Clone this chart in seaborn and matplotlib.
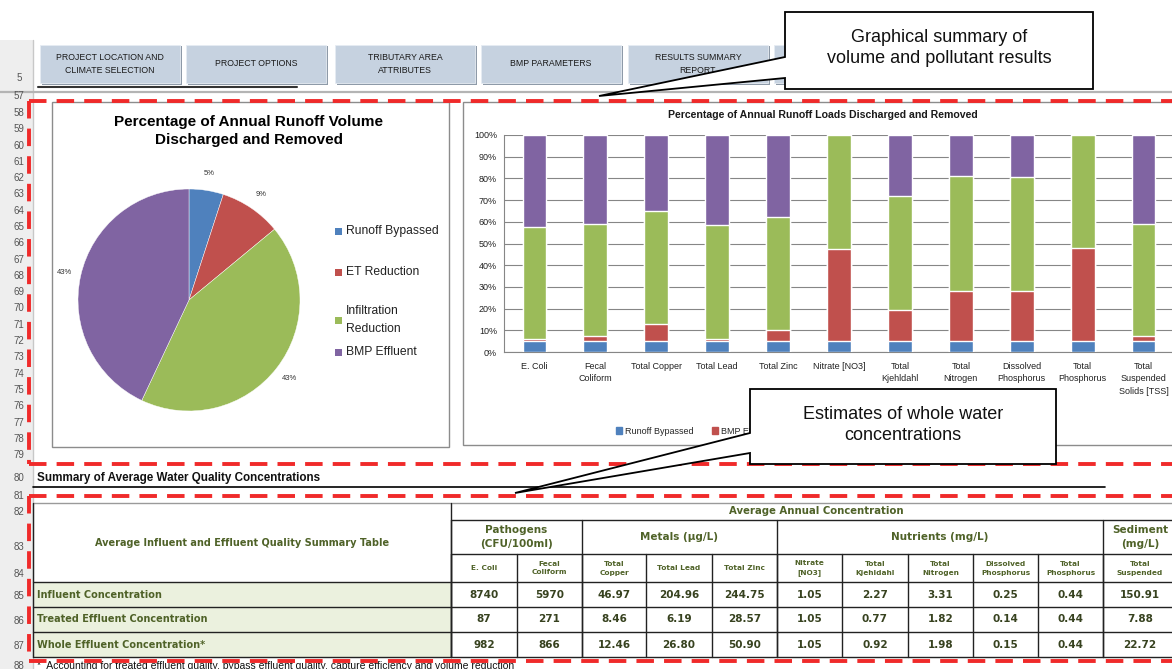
import numpy as np
import pandas as pd
import matplotlib
matplotlib.use("Agg")
import matplotlib.pyplot as plt
import seaborn as sns
from matplotlib.patches import Rectangle, Polygon, Patch

# ---------------- data ----------------
pie_labels = ["Runoff Bypassed", "ET Reduction", "Infiltration\nReduction", "BMP Effluent"]
pie_values = [5, 9, 43, 43]
series_colors = ["#4F81BD", "#C0504D", "#9BBB59", "#8064A2"]

bar_categories = ["E. Coli", "Fecal\nColiform", "Total Copper", "Total Lead", "Total Zinc",
                  "Nitrate [NO3]", "Total\nKjehldahl", "Total\nNitrogen", "Dissolved\nPhosphorus",
                  "Total\nPhosphorus", "Total\nSuspended\nSolids [TSS]"]
bar_series = ["Runoff Bypassed", "BMP Effluent", "Load Removed", "Volume Removed"]
runoff_bypassed = [5, 5, 5, 5, 5, 5, 5, 5, 5, 5, 5]
bmp_effluent = [0.8, 2.2, 7.7, 1.2, 5.1, 42.3, 14.2, 23.3, 23.3, 42.7, 2.2]
load_removed = [52.0, 52.0, 52.2, 52.1, 52.2, 52.7, 52.8, 52.7, 52.3, 52.3, 52.0]
volume_removed = [42.2, 40.8, 35.1, 41.7, 37.7, 0.0, 28.0, 19.0, 19.4, 0.0, 40.8]

buttons = ["PROJECT LOCATION AND\nCLIMATE SELECTION", "PROJECT OPTIONS", "TRIBUTARY AREA\nATTRIBUTES",
           "BMP PARAMETERS", "RESULTS SUMMARY\nREPORT", ""]

table_title = "Average Influent and Effluent Quality Summary Table"
group_headers = ["Pathogens\n(CFU/100ml)", "Metals (\u00b5g/L)", "Nutrients (mg/L)", "Sediment\n(mg/L)"]
group_spans = [2, 3, 5, 1]
col_headers = ["E. Coli", "Fecal\nColiform", "Total\nCopper", "Total Lead", "Total Zinc", "Nitrate\n[NO3]",
               "Total\nKjehldahl", "Total\nNitrogen", "Dissolved\nPhosphorus", "Total\nPhosphorus", "Total\nSuspended"]
row_labels = ["Influent Concentration", "Treated Effluent Concentration", "Whole Effluent Concentration*"]
influent = ["8740", "5970", "46.97", "204.96", "244.75", "1.05", "2.27", "3.31", "0.25", "0.44", "150.91"]
treated = ["87", "271", "8.46", "6.19", "28.57", "1.05", "0.77", "1.82", "0.14", "0.44", "7.88"]
whole = ["982", "866", "12.46", "26.80", "50.90", "1.05", "0.92", "1.98", "0.15", "0.44", "22.72"]

# ---------------- setup ----------------
sns.set_style("white")
plt.rcParams["font.family"] = ["Liberation Sans", "DejaVu Sans"]

W, H = 1172, 669
fig = plt.figure(figsize=(W / 100, H / 100), dpi=100)
fig.patch.set_facecolor("white")

def overlay(z):
    a = fig.add_axes([0, 0, 1, 1], zorder=z)
    a.set_xlim(0, W)
    a.set_ylim(H, 0)
    a.axis("off")
    return a

bg = overlay(0)
fg = overlay(20)

# Excel row header column
bg.add_patch(Rectangle((0, 40), 33, H - 40, fc="#eeeeee", ec="none"))
bg.plot([33, 33], [40, H], color="#c8c8c8", lw=1)
row_nums = {"5": 78, "57": 96}
for i, r in enumerate(range(58, 80)):
    row_nums[str(r)] = 113 + i * 16.29
row_nums.update({"80": 478, "81": 496, "82": 512, "83": 547, "84": 574, "85": 596, "86": 621, "87": 646, "88": 666})
for k, y in row_nums.items():
    bg.text(19, y, k, ha="center", va="center", fontsize=7, color="#555555")

# frozen-pane line and button underline
bg.plot([0, W], [92, 92], color="#b4b4b4", lw=1.6)
bg.plot([38, 297], [87, 87], color="#333333", lw=1.5)

# buttons
bx = [40, 186, 335, 481, 628, 774]
for x0, lab in zip(bx, buttons):
    w = 140
    bg.add_patch(Rectangle((x0 + 1.5, 46), w, 39, fc="#8e9aa8", ec="none"))
    bg.add_patch(Rectangle((x0, 45), w, 38, fc="#c6d2e0", ec="#e6ecf3", lw=0.6))
    bg.text(x0 + w / 2, 64, lab, ha="center", va="center", fontsize=6.3, color="#1a1a1a", linespacing=1.7)

# panel boxes
bg.add_patch(Rectangle((52, 102), 397, 345, fc="white", ec="#8c8c8c", lw=1))
bg.add_patch(Rectangle((463, 102), 730, 343, fc="white", ec="#8c8c8c", lw=1))

# ---------------- pie chart ----------------
bg.text(249, 131, "Percentage of Annual Runoff Volume\nDischarged and Removed", ha="center", va="center",
        fontsize=11, fontweight="bold", color="black", linespacing=1.3)
axp = fig.add_axes([78 / W, 1 - 411 / H, 222 / W, 222 / H], zorder=5)
wedges, texts = axp.pie(pie_values, colors=series_colors, startangle=90, counterclock=False,
                        labels=[f"{v}%" for v in pie_values], labeldistance=1.15,
                        textprops=dict(fontsize=5.5, color="#333333"),
                        wedgeprops=dict(edgecolor="white", linewidth=0.3))
for t in texts:
    t.set_ha("center")
    t.set_va("center")
axp.set_xlim(-1, 1)
axp.set_ylim(-1, 1)

leg_y = [231, 272, 320, 352]
for lab, col, y in zip(pie_labels, series_colors, leg_y):
    bg.add_patch(Rectangle((335, y - 3.5), 7, 7, fc=col, ec="none"))
    bg.text(346, y, lab, ha="left", va="center", fontsize=8.7, color="#222222", linespacing=1.6)

# ---------------- stacked bar chart ----------------
bg.text(823, 115, "Percentage of Annual Runoff Loads Discharged and Removed", ha="center", va="center",
        fontsize=7.6, fontweight="bold", color="#1a1a1a")
axb = fig.add_axes([504 / W, 1 - 352 / H, 670 / W, 217 / H], zorder=5)
segs = np.array([runoff_bypassed, bmp_effluent, load_removed, volume_removed])
cum = np.cumsum(segs, axis=0)
df = pd.DataFrame({"category": bar_categories})
for i, name in enumerate(bar_series):
    df[name] = cum[i]
for i in range(3, -1, -1):
    sns.barplot(data=df, x="category", y=bar_series[i], order=bar_categories, color=series_colors[i],
                width=0.39, saturation=1, ax=axb, zorder=3)
axb.set_xlabel("")
axb.set_ylabel("")
axb.set_ylim(0, 100)
axb.set_xlim(-0.5, 10.5)
axb.set_yticks(range(0, 101, 10))
axb.set_yticklabels([f"{v}%" for v in range(0, 101, 10)])
axb.grid(axis="y", color="#868686", lw=0.8)
axb.set_axisbelow(True)
for s in ["top", "right"]:
    axb.spines[s].set_visible(False)
for s in ["left", "bottom"]:
    axb.spines[s].set_color("#868686")
    axb.spines[s].set_linewidth(0.8)
axb.set_xticks(np.arange(-0.5, 11, 1), minor=True)
axb.tick_params(axis="x", which="minor", length=4, color="#868686", width=0.8)
axb.tick_params(axis="x", which="major", length=0, labelsize=6.5, pad=7, labelcolor="#222222")
axb.tick_params(axis="y", length=3, color="#868686", labelsize=6.5, pad=2, labelcolor="#222222")
for t in axb.get_xticklabels():
    t.set_linespacing(1.5)
# only the legend entries that are not hidden by the callout box
handles = [Patch(color=c, label=l) for c, l in zip(series_colors[:2], bar_series[:2])]
axb.legend(handles=handles, loc="center left", bbox_to_anchor=(608 / W, 1 - 431 / H),
           bbox_transform=fig.transFigure, ncol=2, frameon=False, fontsize=6.5,
           handlelength=0.7, handleheight=0.7, handletextpad=0.3, columnspacing=2.0)

# ---------------- summary table ----------------
bg.text(37, 478, "Summary of Average Water Quality Concentrations", ha="left", va="center",
        fontsize=8.4, fontweight="bold", color="#111111")
bg.plot([33, 1105], [487, 487], color="black", lw=1.2)

olive = "#4f6228"
numc = "#37421f"
tfont = ["DejaVu Sans"]
col_edges = [451, 517, 582, 646, 712, 777, 842, 908, 973, 1038, 1103, 1172]
y_top, y_g, y_s, y_d = 503, 520, 554, 582
row_edges = [582, 607, 632, 657]

for i in range(3):
    bg.add_patch(Rectangle((33, row_edges[i]), 451 - 33, 25, fc="#ebf1de", ec="none"))
    bg.text(37, row_edges[i] + 12.5, row_labels[i], ha="left", va="center", fontsize=7,
            fontweight="bold", color=olive, family=tfont)
bg.text(242, 543, table_title, ha="center", va="center", fontsize=7, fontweight="bold", color=olive, family=tfont)
bg.text(816, 511.5, "Average Annual Concentration", ha="center", va="center", fontsize=7.3,
        fontweight="bold", color=olive, family=tfont)

gi = 0
for name, span in zip(group_headers, group_spans):
    x0 = col_edges[gi]
    x1 = col_edges[gi + span] if gi + span < len(col_edges) else 1172
    cx = (x0 + x1) / 2 if name != group_headers[-1] else 1140
    bg.text(cx, 537, name, ha="center", va="center", fontsize=7.5, fontweight="bold", color=olive,
            family=tfont, linespacing=1.4)
    bg.plot([x0, x0], [y_g, 657], color="#222222", lw=1)
    gi += span

for j, h in enumerate(col_headers):
    cx = (col_edges[j] + col_edges[j + 1]) / 2
    if j == 10:
        cx = 1140
    bg.text(cx, 568, h, ha="center", va="center", fontsize=5.3, fontweight="bold", color=olive,
            family=tfont, linespacing=1.6)
    for r, vals in enumerate([influent, treated, whole]):
        bg.text(cx, row_edges[r] + 12.5, vals[j], ha="center", va="center", fontsize=7.5,
                fontweight="bold", color=numc, family=tfont)
    bg.plot([col_edges[j], col_edges[j]], [y_s, 657], color="#222222", lw=1)

bg.plot([33, W], [y_top, y_top], color="#9a9a9a", lw=1)
bg.plot([451, W], [y_g, y_g], color="#222222", lw=1)
bg.plot([451, W], [y_s, y_s], color="#222222", lw=1)
for y in row_edges:
    bg.plot([33, W], [y, y], color="#222222", lw=1)
bg.plot([33, 33], [y_top, 657], color="#222222", lw=1)
bg.plot([451, 451], [y_top, 657], color="#222222", lw=1)

bg.text(37, 666, "*  Accounting for treated effluent quality, bypass effluent quality, capture efficiency and volume reduction",
        ha="left", va="center", fontsize=7.5, color="#111111")

# ---------------- red dashed regions ----------------
red = "#f02a2a"
ls = (0, (4.5, 2.6))
for top, bot in [(101, 464), (496, 661)]:
    fg.plot([29, W + 5], [top, top], color=red, lw=2.8, linestyle=ls)
    fg.plot([29, W + 5], [bot, bot], color=red, lw=2.8, linestyle=ls)
    fg.plot([29, 29], [top, bot], color=red, lw=2.8, linestyle=ls)

# ---------------- callouts ----------------
c1 = [(785, 12), (1093, 12), (1093, 89), (785, 89), (785, 78), (599, 96), (785, 57)]
fg.add_patch(Polygon(c1, closed=True, fc="white", ec="black", lw=1.3, zorder=5))
fg.text(939, 48, "Graphical summary of\nvolume and pollutant results", ha="center", va="center",
        fontsize=13, color="#111111", linespacing=1.25, zorder=6)
c2 = [(750, 389), (1056, 389), (1056, 464), (750, 464), (750, 453), (515, 493), (750, 433)]
fg.add_patch(Polygon(c2, closed=True, fc="white", ec="black", lw=1.3, zorder=5))
fg.text(903, 425, "Estimates of whole water\nconcentrations", ha="center", va="center",
        fontsize=13, color="#111111", linespacing=1.25, zorder=6)

fig.savefig("out.png", dpi=100, facecolor="white")
